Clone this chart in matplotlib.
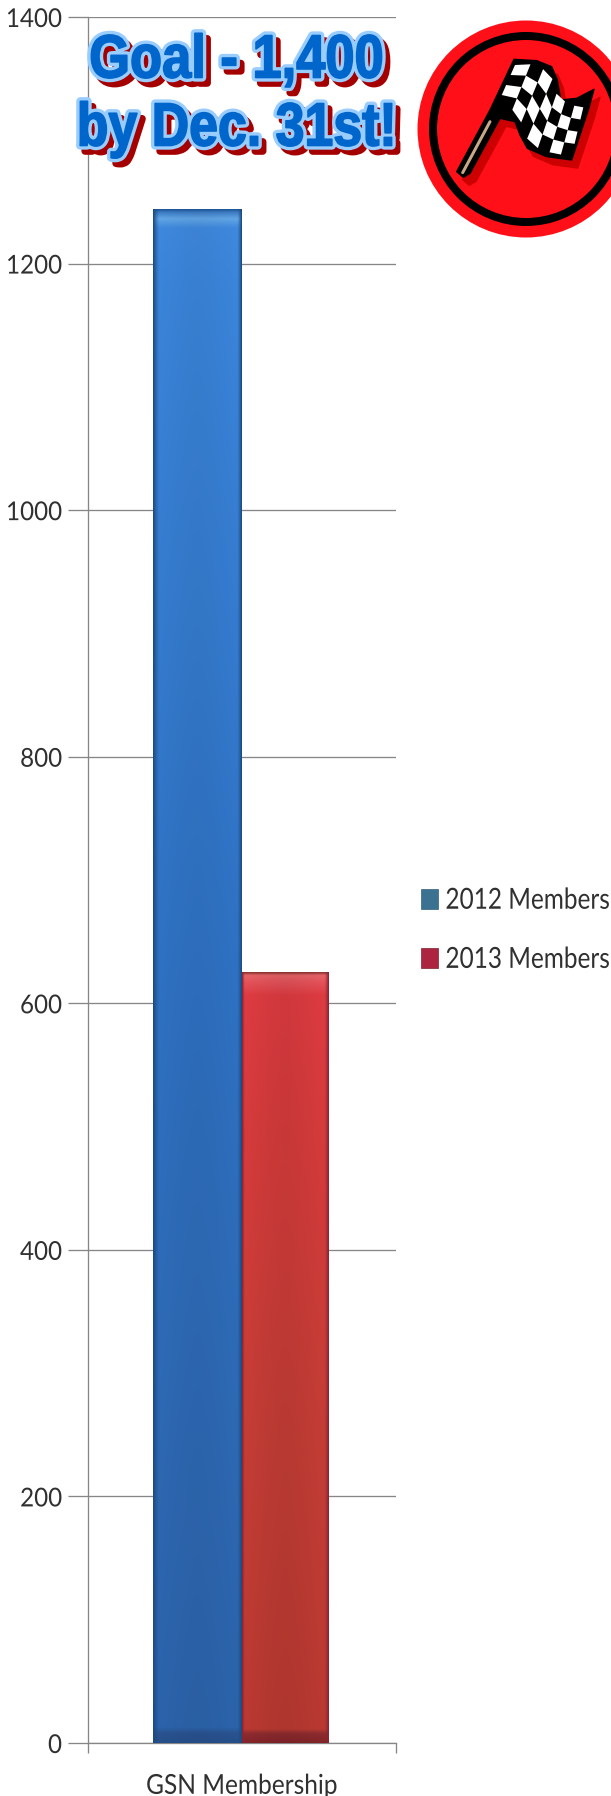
import numpy as np
import matplotlib
matplotlib.use("Agg")
import matplotlib.pyplot as plt
import matplotlib.patheffects as pe
from matplotlib.colors import to_rgb
from matplotlib.patches import Circle, Polygon, Patch
from matplotlib.transforms import Affine2D

# ---- data ----
categories = ["GSN Membership"]
series_names = ["2012 Members", "2013 Members"]
values_2012 = [1244]
values_2013 = [625]
y_ticks = [0, 200, 400, 600, 800, 1000, 1200, 1400]
goal_lines = ["Goal - 1,400", "by Dec. 31st!"]

W, H = 611, 1796
DPI = 100
px = 72 / DPI
FONT = ["Lato", "DejaVu Sans"]
GRAY = "#868686"


class Squeezed(pe.AbstractPathEffect):
    """Draw a real text line rescaled about an anchor (condensed look of the original)."""

    def __init__(self, sx, anchor="center", lw=None, fg=None, offset=(0, 0), sy=1.0):
        super().__init__()
        self.sx, self.sy, self.anchor, self.lw, self.fg, self.off = sx, sy, anchor, lw, fg, offset

    def draw_path(self, renderer, gc, tpath, affine, rgbFace=None):
        box = tpath.get_extents(affine)
        a = {"center": (box.x0 + box.x1) / 2, "left": box.x0, "right": box.x1}[self.anchor]
        b = (box.y0 + box.y1) / 2
        t = affine + Affine2D().translate(-a, -b).scale(self.sx, self.sy).translate(a + self.off[0], b + self.off[1])
        if self.lw is None:
            renderer.draw_path(gc, tpath, t, rgbFace)
        else:
            g = renderer.new_gc()
            g.copy_properties(gc)
            g.set_foreground(self.fg)
            g.set_linewidth(self.lw)
            g.set_joinstyle("round")
            renderer.draw_path(g, tpath, t, to_rgb(self.fg))
            g.restore()


fig = plt.figure(figsize=(W / DPI, H / DPI), dpi=DPI, facecolor="white")
ax = fig.add_axes([88 / W, 1 - 1743 / H, (396 - 88) / W, (1743 - 17) / H])
ax.set_xlim(-0.5, 0.5)
ax.set_ylim(0, 1400)
ax.yaxis.grid(True, color=GRAY, lw=1.3 * px)
ax.set_axisbelow(True)
for s in ("top", "right"):
    ax.spines[s].set_visible(False)
for s in ("left", "bottom"):
    ax.spines[s].set_color(GRAY)
    ax.spines[s].set_linewidth(1.3 * px)

ax.set_yticks(y_ticks)
ax.tick_params(axis="y", length=20 * px, width=1.3 * px, color=GRAY, pad=6 * px,
               labelsize=26 * px, labelcolor="#303030")
for t in ax.get_yticklabels():
    t.set_fontfamily(FONT)
    t.set_path_effects([Squeezed(0.93, "right")])

ax.set_xticks([-0.5, 0.5])
ax.set_xticklabels([])
ax.tick_params(axis="x", length=10 * px, width=1.3 * px, color=GRAY)
ax.set_xticks([0], minor=True)
ax.set_xticklabels(categories, minor=True, fontsize=24.5 * px, color="#303030", family=FONT)
ax.tick_params(axis="x", which="minor", length=0, pad=33 * px)
for t in ax.get_xticklabels(minor=True):
    t.set_path_effects([Squeezed(1.0, "center", sy=1.12)])

bw = 0.2875
bars_a = ax.bar([-bw / 2], values_2012, bw, color="#2f72c4", zorder=3)
bars_b = ax.bar([bw / 2 - 0.002], values_2013, bw * 0.98, color="#c93e34", zorder=3)


def gradient(stops, cols, edge_col, edge_l, edge_r, centre=1.0):
    n = 1600
    fr = np.linspace(0, 1, n)
    c = np.array([to_rgb(k) for k in cols])
    vert = np.stack([np.interp(fr, stops, c[:, i]) for i in range(3)], axis=1)
    m = 120
    x = np.linspace(0, 1, m)
    w = np.maximum(np.clip(1 - x / edge_l, 0, 1), np.clip(1 - (1 - x) / edge_r, 0, 1)) ** 1.3
    shade = centre + (1 - centre) * np.abs(2 * x - 1) ** 1.5
    e = np.array(to_rgb(edge_col))
    img = vert[:, None, :] * shade[None, :, None] * (1 - w[None, :, None]) + e[None, None, :] * w[None, :, None]
    return np.clip(img, 0, 1)


def paint(bar, img):
    x0, h, w = bar.get_x(), bar.get_height(), bar.get_width()
    im = ax.imshow(img, extent=[x0, x0 + w, 0, h], aspect="auto", zorder=4,
                   interpolation="bilinear")
    im.set_clip_path(bar)


b_stops = [0, .002, .006, .012, .05, .5, .85, .990, .994, 1]
b_cols = ["#205a9c", "#3f7fc8", "#63a8e8", "#3f8ae0", "#3b86dc", "#2f72c4", "#2e68b2",
          "#2c64ac", "#2a5390", "#27508c"]
r_stops = [0, .004, .012, .03, .2, .6, .982, .988, 1]
r_cols = ["#8a3030", "#e86468", "#e8545c", "#e03c42", "#d83c3c", "#c63e36", "#bc3a32",
          "#8f2c30", "#842428"]
paint(bars_a[0], gradient(b_stops, b_cols, "#1c4a80", 0.07, 0.05, centre=0.95))
paint(bars_b[0], gradient(r_stops, r_cols, "#8a2430", 0.03, 0.05, centre=0.93))
ax.set_xlim(-0.5, 0.5)
ax.set_ylim(0, 1400)

handles = [Patch(facecolor="#3b7291", edgecolor="#33607c", lw=0.5),
           Patch(facecolor="#ad2440", edgecolor="#7c2030", lw=0.5)]
leg = fig.legend(handles, series_names, loc="upper left",
                 bbox_to_anchor=(421 / W, 1 - 888.5 / H), bbox_transform=fig.transFigure,
                 frameon=False, borderpad=0, borderaxespad=0,
                 handlelength=0.70, handleheight=0.9, handletextpad=0.3, labelspacing=1.5,
                 prop={"family": FONT, "size": 24.4 * px}, labelcolor="#303030")
for t in leg.get_texts():
    t.set_path_effects([Squeezed(1.0, "left", sy=1.19)])

# ---- overlay in reference pixel coordinates: goal banner and flag emblem ----
ov = fig.add_axes([0, 0, 1, 1], zorder=10)
ov.set_xlim(0, W)
ov.set_ylim(H, 0)
ov.axis("off")
ov.patch.set_alpha(0)

for txt, cx, base, sx in zip(goal_lines, (236.5, 237), (77.5, 145.5), (0.86, 0.85)):
    effects = [
        Squeezed(sx, lw=5.5, fg="#a50000", offset=(5, -5.5)),
        Squeezed(sx, lw=6, fg="#99ccff"),
        Squeezed(sx, lw=1.2, fg="#0066cc"),
    ]
    ov.text(cx, base, txt, ha="center", va="baseline", color="#0066cc", fontsize=61 * px,
            fontweight="bold", family=["Liberation Sans Narrow", "Liberation Sans"],
            path_effects=effects)

ov.add_patch(Circle((526, 129), 108.5, fc="#ff0f17", ec="none"))
ov.add_patch(Circle((526, 129), 93, fc="none", ec="black", lw=8 * px))


def zp(pts):
    a = np.array(pts, float)
    return np.column_stack([440 + a[:, 0] / 3, 50 + a[:, 1] / 3])


outline = [(222, 28), (290, 32), (335, 50), (352, 90), (362, 150), (410, 145), (462, 118),
           (445, 180), (395, 330), (320, 320), (262, 295), (240, 255), (225, 215),
           (180, 205), (90, 370), (70, 382), (50, 365), (150, 180)]
ov.add_patch(Polygon(zp(outline) + [6, 8], closed=True, fc="#cc0000", ec="#cc0000", lw=1))
ov.add_patch(Polygon(zp(outline), closed=True, fc="black", ec="black", lw=1, joinstyle="round"))
ov.plot(*zp([(150, 215), (68, 368)]).T, color="#c8a888", lw=3 * px, solid_capstyle="round")

top_edge = np.array([(225, 45), (290, 42), (335, 78), (352, 140), (392, 165), (430, 172)], float)
bot_edge = np.array([(172, 165), (235, 185), (255, 260), (300, 300), (350, 312), (395, 318)], float)
nu, nv = 7, 4
us = np.linspace(0, 1, nu + 1)
ku = np.linspace(0, 1, len(top_edge))
te = np.column_stack([np.interp(us, ku, top_edge[:, i]) for i in range(2)])
be = np.column_stack([np.interp(us, ku, bot_edge[:, i]) for i in range(2)])
for i in range(nu):
    for j in range(nv):
        if (i + j) % 2:
            continue
        f0, f1 = j / nv, (j + 1) / nv
        q = [te[i] * (1 - f0) + be[i] * f0, te[i + 1] * (1 - f0) + be[i + 1] * f0,
             te[i + 1] * (1 - f1) + be[i + 1] * f1, te[i] * (1 - f1) + be[i] * f1]
        ov.add_patch(Polygon(zp(q), closed=True, fc="white", ec="none"))

fig.savefig("out.png", dpi=DPI, facecolor="white")
